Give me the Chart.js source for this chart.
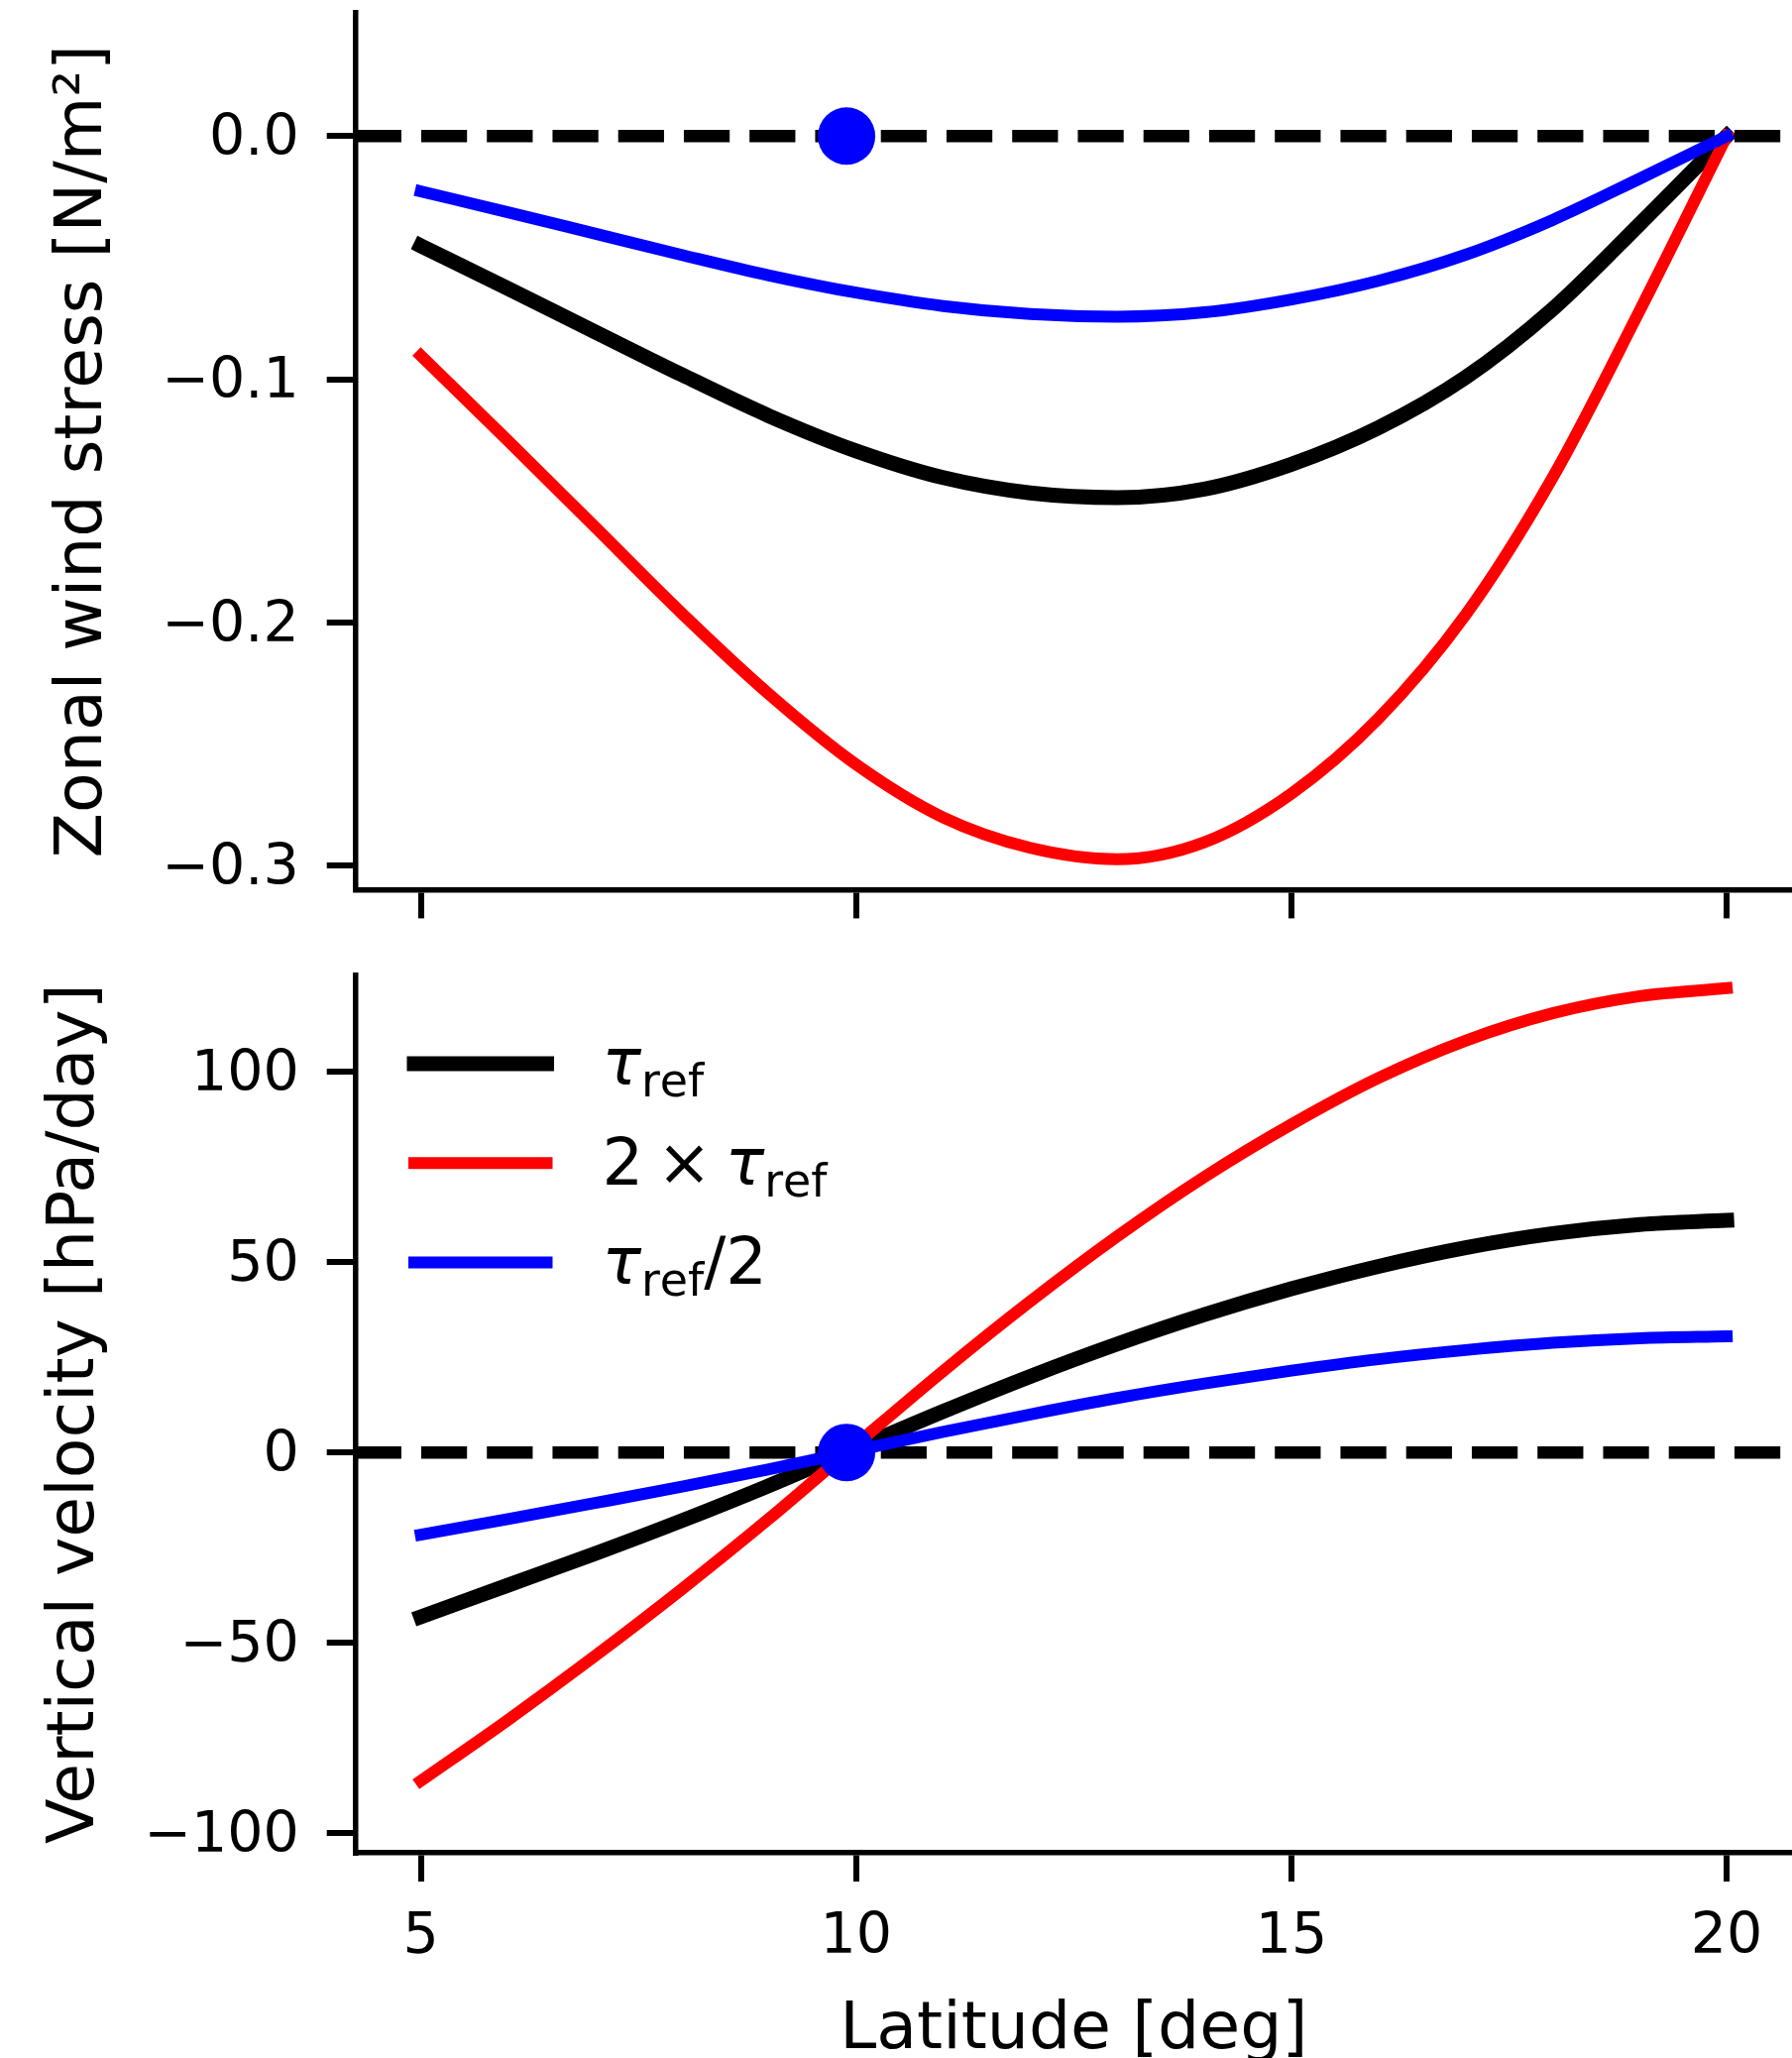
<!DOCTYPE html>
<html>
<head>
<meta charset="utf-8">
<title>Wind stress and vertical velocity</title>
<script src="https://cdn.jsdelivr.net/npm/chart.js@4.4.1/dist/chart.umd.min.js"></script>
<style>
  html, body { margin: 0; padding: 0; background: #ffffff; width: 1808px; height: 2076px; overflow: hidden; }
  .panel { position: absolute; left: 0; }
  #stressPanel { top: 0; }
  #omegaPanel { top: 960px; }
</style>
</head>
<body>
<div class="panel" id="stressPanel"><canvas id="stressChart" width="1808" height="960"></canvas></div>
<div class="panel" id="omegaPanel"><canvas id="omegaChart" width="1808" height="1140"></canvas></div>
<script>
// Latitude grid [deg]
const latitude = [5, 6, 7, 8, 9, 10, 11, 12, 13, 14, 15, 16, 17, 18, 19, 20];

// Zonal wind stress [N/m^2]
const stressRef    = [-0.0451, -0.0627, -0.0805, -0.0982, -0.1151, -0.1295, -0.1405, -0.1468, -0.1487, -0.1452, -0.1350, -0.1200, -0.0993, -0.0712, -0.0362, 0];
const stressDouble = [-0.0903, -0.1253, -0.1608, -0.1964, -0.2296, -0.2585, -0.2803, -0.2928, -0.2975, -0.2905, -0.2705, -0.2396, -0.1970, -0.1405, -0.0718, 0];
const stressHalf   = [-0.0227, -0.0313, -0.0401, -0.0489, -0.0573, -0.0644, -0.0699, -0.0732, -0.0743, -0.0725, -0.0672, -0.0595, -0.0488, -0.0345, -0.0175, 0];

// Vertical velocity [hPa/day]
const omegaRef    = [-43.2, -34.9, -26.6, -17.9, -8.7, 1.1, 10.8, 20.0, 28.5, 36.2, 43.0, 48.9, 53.8, 57.5, 59.9, 61.0];
const omegaDouble = [-86.3, -70.3, -53.5, -35.9, -17.4, 2.1, 21.4, 39.7, 56.8, 72.4, 86.2, 98.4, 108.2, 115.4, 119.9, 122.0];
const omegaHalf   = [-21.6, -17.5, -13.3, -9.0, -4.4, 0.5, 5.4, 10.0, 14.3, 18.1, 21.5, 24.5, 26.9, 28.8, 30.0, 30.5];

// Latitude where the Ekman pumping changes sign
const markerLat = 9.89;

// Axis ranges and ticks
const latLimits = [4.25, 20.75];
const stressLimits = [-0.31, 0.0507];
const omegaLimits = [-105.2, 125.5];
const latTicks = [5, 10, 15, 20];
const stressTicks = [-0.3, -0.2, -0.1, 0.0];
const omegaTicks = [-100, -50, 0, 50, 100];

// Series names (TeX-like subscripts)
const seriesLabels = ['τ_{ref}', '2 × τ_{ref}', 'τ_{ref}/2'];

const FONT = 'DejaVu Sans';
const TICK_SIZE = 57;
const LABEL_SIZE = 66.5;

const minus = s => s.replace('-', '\u2212');

function curve(label, xs, ys, color, width, order, legendText) {
  return {
    label, legendText,
    data: xs.map((x, i) => ({ x, y: ys[i] })),
    borderColor: color, backgroundColor: color,
    borderWidth: width, pointRadius: 0, pointHoverRadius: 0,
    fill: false, cubicInterpolationMode: 'monotone',
    borderCapStyle: 'square', borderJoinStyle: 'round', order
  };
}

function zeroLine() {
  return {
    label: 'zero', data: latLimits.map(x => ({ x, y: 0 })),
    borderColor: '#000000', borderWidth: 12.5, borderDash: [46.25, 20],
    borderCapStyle: 'butt', pointRadius: 0, pointHoverRadius: 0, fill: false, order: 5
  };
}

function marker() {
  return {
    label: 'marker', data: [{ x: markerLat, y: 0 }], showLine: false,
    pointRadius: 29, pointHoverRadius: 29, pointBorderWidth: 0,
    pointBackgroundColor: '#0000ff', pointBorderColor: '#0000ff', order: 0
  };
}

function fixTicks(values) {
  return scale => { scale.ticks = values.map(v => ({ value: v })); };
}

// Fixes the size of an axis box and drops the extra room reserved for edge labels
function fixBox(prop, size) {
  return scale => {
    scale[prop] = size;
    scale.paddingTop = 0; scale.paddingBottom = 0;
    scale.paddingLeft = 0; scale.paddingRight = 0;
  };
}

const axisLine = { display: true, width: 5.5, color: '#000000' };
const tickMarks = { display: true, drawOnChartArea: false, drawTicks: true, tickLength: 29, lineWidth: 6, color: '#000000' };

// Draws text in which _{...} marks a subscript
function drawMathText(ctx, text, x, y, size) {
  const parts = [];
  const re = /_\{([^}]*)\}/g;
  let last = 0, m;
  while ((m = re.exec(text))) {
    if (m.index > last) parts.push({ t: text.slice(last, m.index), sub: false });
    parts.push({ t: m[1], sub: true });
    last = re.lastIndex;
  }
  if (last < text.length) parts.push({ t: text.slice(last), sub: false });
  ctx.textAlign = 'left';
  ctx.textBaseline = 'alphabetic';
  ctx.fillStyle = '#000000';
  for (const p of parts) {
    const fs = p.sub ? size * 0.7 : size;
    const dy = p.sub ? size * 0.18 : 0;
    for (const ch of p.t) {
      if (ch === ' ') { x += size * 0.21; continue; }
      const greek = /[\u0370-\u03ff]/.test(ch);
      ctx.font = (greek ? 'italic ' : '') + fs + 'px "' + FONT + '"';
      ctx.fillText(ch, x, y + dy);
      x += ctx.measureText(ch).width;
    }
  }
}

const mathLegend = {
  id: 'mathLegend',
  afterDraw(chart, args, opts) {
    if (!opts || !opts.display) return;
    const { ctx, chartArea } = chart;
    const entries = chart.data.datasets.filter(d => d.legendText);
    entries.sort((a, b) => a.legendRank - b.legendRank);
    const x0 = chartArea.left + opts.left;
    let y = chartArea.top + opts.top;
    for (const ds of entries) {
      ctx.save();
      ctx.strokeStyle = ds.borderColor;
      ctx.lineWidth = ds.borderWidth;
      ctx.lineCap = 'square';
      ctx.beginPath();
      ctx.moveTo(x0, y);
      ctx.lineTo(x0 + opts.length, y);
      ctx.stroke();
      drawMathText(ctx, ds.legendText, x0 + opts.length + opts.gap, y + opts.baseline, opts.size);
      ctx.restore();
      y += opts.spacing;
    }
  }
};

function baseOptions(padTop) {
  return {
    responsive: false, animation: false, devicePixelRatio: 1,
    layout: { autoPadding: false, padding: { top: padTop, left: 0, right: 0, bottom: 0 } },
    plugins: { legend: { display: false }, tooltip: { enabled: false } },
    events: []
  };
}

// Upper panel: zonal wind stress
const stressDatasets = [
  zeroLine(),
  curve('ref', latitude, stressRef, '#000000', 15, 3),
  curve('double', latitude, stressDouble, '#ff0000', 12, 2),
  curve('half', latitude, stressHalf, '#0000ff', 12, 1),
  marker()
];

const stressOpts = baseOptions(13);
stressOpts.scales = {
  x: {
    type: 'linear', min: latLimits[0], max: latLimits[1],
    afterBuildTicks: fixTicks(latTicks),
    afterFit: fixBox('height', 62.6),
    grid: tickMarks, border: axisLine,
    ticks: { display: false }
  },
  y: {
    type: 'linear', min: stressLimits[0], max: stressLimits[1],
    afterBuildTicks: fixTicks(stressTicks),
    afterFit: fixBox('width', 358.7),
    grid: tickMarks, border: axisLine,
    ticks: {
      color: '#000000', font: { family: FONT, size: TICK_SIZE }, padding: 28, labelOffset: 4,
      callback: v => minus(Number(v).toFixed(1))
    },
    title: {
      display: true, text: 'Zonal wind stress [N/m²]', color: '#000000',
      font: { family: FONT, size: LABEL_SIZE }, padding: { top: 45, bottom: 0 }
    }
  }
};

new Chart(document.getElementById('stressChart'), {
  type: 'line',
  data: { datasets: stressDatasets },
  options: stressOpts
});

// Lower panel: vertical velocity
const omegaDatasets = [
  zeroLine(),
  curve('ref', latitude, omegaRef, '#000000', 15, 3, seriesLabels[0]),
  curve('double', latitude, omegaDouble, '#ff0000', 12, 2, seriesLabels[1]),
  curve('half', latitude, omegaHalf, '#0000ff', 12, 1, seriesLabels[2]),
  marker()
];
omegaDatasets[1].legendRank = 0;
omegaDatasets[2].legendRank = 1;
omegaDatasets[3].legendRank = 2;

const omegaOpts = baseOptions(23.4);
omegaOpts.plugins.mathLegend = {
  display: true, left: 59.3, top: 89.5, length: 133.5, gap: 56, spacing: 100.3,
  baseline: 21.5, size: 65.6
};
omegaOpts.scales = {
  x: {
    type: 'linear', min: latLimits[0], max: latLimits[1],
    afterBuildTicks: fixTicks(latTicks),
    afterFit: fixBox('height', 231),
    grid: tickMarks, border: axisLine,
    ticks: {
      color: '#000000', font: { family: FONT, size: TICK_SIZE }, padding: 22.5,
      maxRotation: 0, autoSkip: false, callback: v => minus(String(v))
    },
    title: {
      display: true, text: 'Latitude [deg]', color: '#000000',
      font: { family: FONT, size: LABEL_SIZE }, padding: { top: 0, bottom: 11 }
    }
  },
  y: {
    type: 'linear', min: omegaLimits[0], max: omegaLimits[1],
    afterBuildTicks: fixTicks(omegaTicks),
    afterFit: fixBox('width', 358.7),
    grid: tickMarks, border: axisLine,
    ticks: {
      color: '#000000', font: { family: FONT, size: TICK_SIZE }, padding: 28, labelOffset: 4,
      callback: v => minus(String(v))
    },
    title: {
      display: true, text: 'Vertical velocity [hPa/day]', color: '#000000',
      font: { family: FONT, size: LABEL_SIZE }, padding: { top: 37, bottom: 0 }
    }
  }
};

new Chart(document.getElementById('omegaChart'), {
  type: 'line',
  data: { datasets: omegaDatasets },
  options: omegaOpts,
  plugins: [mathLegend]
});
</script>
</body>
</html>
